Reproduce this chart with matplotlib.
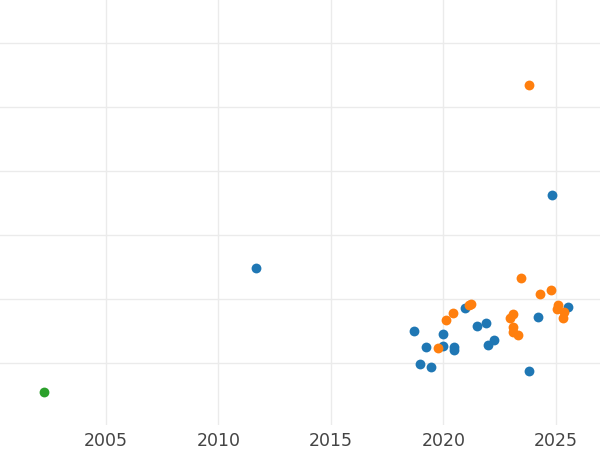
import matplotlib
matplotlib.use("Agg")
import matplotlib.pyplot as plt

# values (y has no labels, arbitrary units)
blue_x = [2018.69, 2019.21, 2018.96, 2019.46, 2019.96, 2019.96, 2020.47, 2020.47,
          2020.97, 2021.49, 2021.88, 2022.23, 2021.96, 2024.21, 2025.52, 2023.80,
          2011.67, 2024.82]
blue_y = [14.95, 12.55, 9.80, 9.33, 14.58, 12.66, 12.55, 12.03,
          18.59, 15.78, 16.20, 13.59, 12.77, 17.19, 18.80, 8.70,
          24.84, 36.25]

orange_x = [2019.78, 2020.12, 2020.44, 2021.12, 2021.24, 2023.44, 2024.30, 2024.78,
            2022.96, 2023.10, 2023.08, 2023.08, 2023.32, 2025.10, 2025.06, 2025.36,
            2025.32, 2023.80]
orange_y = [12.39, 16.77, 17.77, 19.02, 19.17, 23.33, 20.73, 21.41,
            16.98, 17.61, 15.63, 14.89, 14.38, 19.06, 18.39, 18.02,
            16.98, 53.44]

green_x = [2002.24]
green_y = [5.47]

x_ticks = [2005, 2010, 2015, 2020, 2025]
y_ticks = [10, 20, 30, 40, 50, 60]

fig = plt.figure(figsize=(6, 4.5), dpi=100)
ax = fig.add_axes([0, 25 / 450, 1, 425 / 450])

ax.scatter(blue_x, blue_y, s=50, color="#1f77b4", zorder=3, linewidths=0)
ax.scatter(orange_x, orange_y, s=50, color="#ff7f0e", zorder=3, linewidths=0)
ax.scatter(green_x, green_y, s=50, color="#2ca02c", zorder=3, linewidths=0)

ax.set_xlim(2000.29, 2026.96)
ax.set_ylim(0.31, 66.7)
ax.set_xticks(x_ticks)
ax.set_yticks(y_ticks)
ax.set_yticklabels([])
ax.tick_params(length=0, labelsize=12.5, labelcolor="#444444", pad=5)
ax.grid(True, color="#ebebeb", linewidth=1.0)
ax.set_axisbelow(True)
for s in ax.spines.values():
    s.set_visible(False)

fig.savefig("out.png", dpi=100)
